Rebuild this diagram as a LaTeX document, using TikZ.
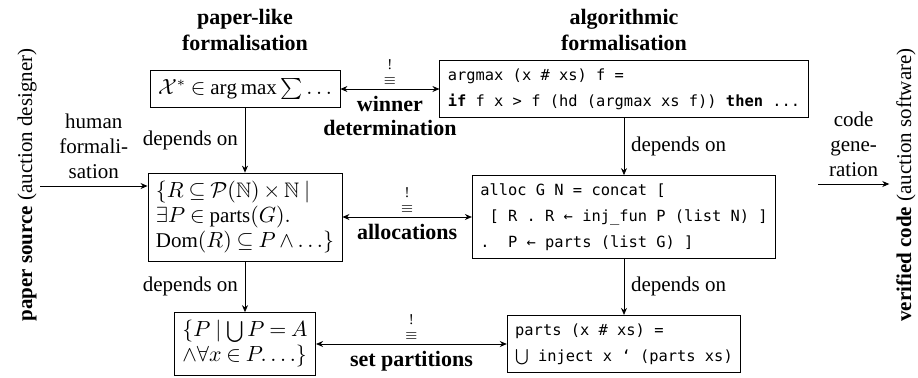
\documentclass[tikz,border=0pt]{standalone}
\usepackage{amsmath,amssymb}
\usepackage{fontspec}
\setmainfont{Liberation Serif}
\newfontfamily\codefont{DejaVu Sans Mono}
\usetikzlibrary{arrows.meta}
\begin{document}
\begin{tikzpicture}[x=0.5pt,y=-0.5pt,
    every node/.style={font=\fontsize{10.5}{12.5}\selectfont},
    head/.style={align=center,font=\fontsize{11}{13}\selectfont\bfseries},
    box/.style={draw,inner sep=4pt,align=left,
      execute at begin node={\medmuskip=3mu\thickmuskip=4mu}},
    code/.style={box,font=\codefont\fontsize{7.7}{13}\selectfont},
    lbl/.style={align=center,font=\fontsize{11}{12}\selectfont\bfseries},
    eqv/.style={align=center,inner sep=2pt,font=\fontsize{7.5}{7.5}\selectfont},
    >={Stealth[length=3.5pt,width=3pt]}]
  \useasboundingbox (0,0) rectangle (918,377);
  % column headings
  \node[head] (hpaper) at (245,30) {paper-like\\formalisation};
  \node[head] (halgo) at (624,30) {algorithmic\\formalisation};
  % sources and targets
  \node[rotate=90] (psrc) at (27,185) {\textbf{paper source} (auction designer)};
  \node[rotate=90] (vcode) at (906,185) {\textbf{verified code} (auction software)};
  % paper-like side
  \node[box] (xwin) at (245,89) {$\mathcal{X}^*\in\arg\max\sum\ldots$};
  \node[box] (xalloc) at (245,217) {$\{R\subseteq\mathcal{P}(\mathbb{N})\times\mathbb{N}\mid$\\
    $\exists P\in\mathrm{parts}(G).$\\
    $\mathrm{Dom}(R)\subseteq P\wedge\ldots\}$};
  \node[box] (xparts) at (245,344) {$\{P\mid\bigcup P=A$\\$\wedge\forall x\in P.\ldots\}$};
  % algorithmic side
  \node[code] (cwin) at (624,89) {argmax (x \# xs) f =\\
    \textbf{if} f x > f (hd (argmax xs f)) \textbf{then} ...};
  \node[code] (calloc) at (624,217) {alloc G N = concat [\\
    ~[ R . R ← inj\_fun P (list N) ]\\
    .~~P ← parts (list G) ]};
  \node[code] (cparts) at (624,344) {parts (x \# xs) =\\
    $\bigcup$ inject x ‘ (parts xs)};
  % dependencies
  \draw[->] (xwin) -- (xalloc) node[midway,left] {depends on};
  \draw[->] (xalloc) -- (xparts) node[midway,left] {depends on};
  \draw[->] (cwin) -- (calloc) node[midway,right] {depends on};
  \draw[->] (calloc) -- (cparts) node[midway,right] {depends on};
  % equivalences
  \draw[<->] (xwin.east) -- (xwin.east -| cwin.west)
    node[midway,above,eqv] {!\\$\equiv$}
    node[midway,below,lbl] {winner\\determination};
  \draw[<->] (xalloc.east) -- (xalloc.east -| calloc.west)
    node[midway,above,eqv] {!\\$\equiv$}
    node[midway,below,lbl] {allocations};
  \draw[<->] (xparts.east) -- (xparts.east -| cparts.west)
    node[midway,above,eqv] {!\\$\equiv$}
    node[midway,below,lbl] {set partitions};
  % in and out
  \coordinate (hstart) at (40,186);
  \draw[->] (hstart) -- (hstart -| xalloc.west)
    node[midway,above,align=center] {human\\formali-\\sation};
  \coordinate (gstart) at (818,184);
  \draw[->] (gstart) -- (vcode.north |- gstart)
    node[midway,above,align=center] {code\\gene-\\ration};
\end{tikzpicture}
\end{document}
